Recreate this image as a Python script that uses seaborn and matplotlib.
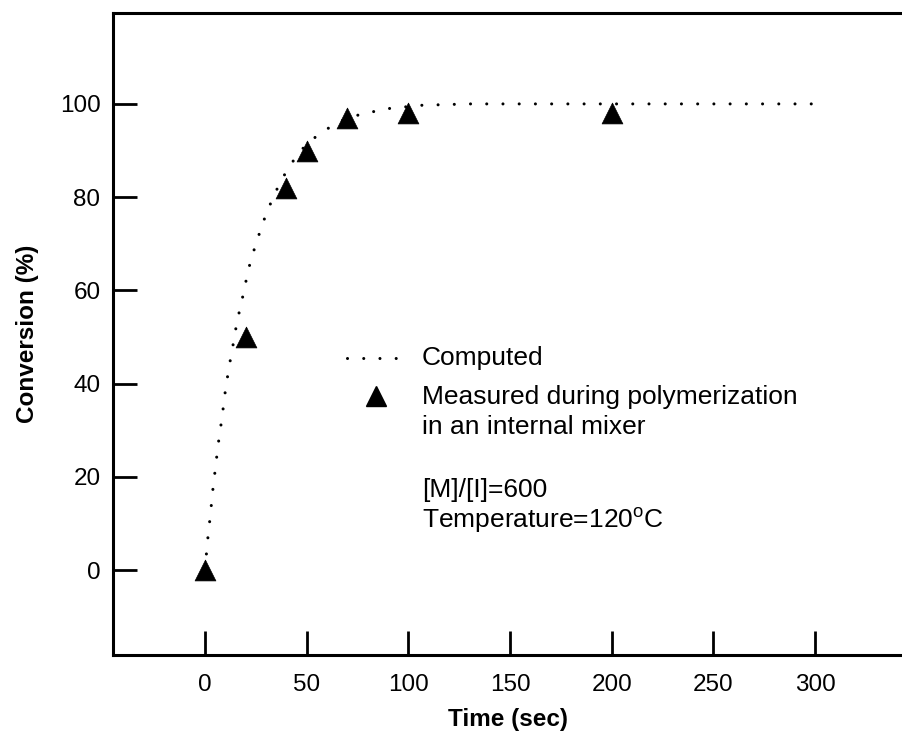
import matplotlib
matplotlib.use("Agg")
import matplotlib.pyplot as plt
import seaborn as sns
import pandas as pd
from matplotlib.lines import Line2D

# Computed curve
computed_time = [0, 0.84, 1.6, 2.5, 3.3, 4.1, 5.1, 6.0, 7.0, 8.2, 9.2, 10.2, 11.5, 12.8,
                 14.3, 15.6, 17.4, 19.2, 20.8, 22.8, 25.4, 27.9, 31.0, 34.3, 38.5, 43.4,
                 50, 58.4, 66, 74.3, 82.3, 90.2, 106, 130, 160, 200, 250, 300]
computed_conv = [0, 4.5, 8.0, 11.4, 15.0, 18.5, 21.9, 25.4, 28.8, 32.3, 35.8, 39.3, 42.7, 46.1,
                 49.6, 53.1, 56.5, 60.0, 63.5, 67.0, 70.4, 73.9, 77.4, 80.8, 84.4, 87.8,
                 91.5, 94.2, 96.2, 97.5, 98.3, 99.0, 99.7, 100, 100, 100, 100, 100]

# Measured points
measured_time = [0, 20, 40, 50, 70, 100, 200]
measured_conv = [0, 50, 82, 90, 97, 98, 98]

x_ticks = [0, 50, 100, 150, 200, 250, 300]
y_ticks = [0, 20, 40, 60, 80, 100]

sns.set_style("ticks")
plt.rcParams['font.family'] = ['Liberation Sans', 'DejaVu Sans']
plt.rcParams['text.color'] = 'black'
plt.rcParams['axes.labelcolor'] = 'black'
plt.rcParams['xtick.color'] = 'black'
plt.rcParams['ytick.color'] = 'black'

fig = plt.figure(figsize=(9.02, 7.46), dpi=100)
ax = fig.add_axes([113/902, 91/746, 1 - 113/902, (655-13)/746])

df_c = pd.DataFrame({"t": computed_time, "c": computed_conv})
df_m = pd.DataFrame({"t": measured_time, "c": measured_conv})

sns.lineplot(data=df_c, x="t", y="c", ax=ax, color="black", linewidth=2.2,
             linestyle=(0, (0.01, 5.3)), dash_capstyle="round", sort=False)
sns.scatterplot(data=df_m, x="t", y="c", ax=ax, marker="^", s=15**2, color="black",
                edgecolor="black", linewidth=0.5, zorder=3)

ax.set_xlim(-45.3, 342.8)
ax.set_ylim(-18.2, 119.5)
ax.set_xticks(x_ticks)
ax.set_yticks(y_ticks)
ax.tick_params(direction="in", length=17.5, width=2, labelsize=17.5,
               colors="black", labelcolor="black")
ax.tick_params(axis="x", pad=13.5)
ax.tick_params(axis="y", pad=9)

for s in ["left", "bottom", "top"]:
    ax.spines[s].set_linewidth(2.2)
    ax.spines[s].set_color("black")
ax.spines["right"].set_visible(False)

ax.set_xlabel("Time (sec)", fontsize=17.5, fontweight="bold", labelpad=9, color="black")
ax.set_ylabel("Conversion (%)", fontsize=17.5, fontweight="bold", labelpad=15, color="black")

# Legend (manual)
tr = ax.transAxes
def ax_x(px):
    return (px - 113) / (902 - 113)
def ax_y(py):
    return (655 - py) / (655 - 13)

ax.add_line(Line2D([ax_x(347), ax_x(397)], [ax_y(358), ax_y(358)], transform=tr,
                   color="black", linewidth=2.2, linestyle=(0, (0.01, 5.3)),
                   dash_capstyle="round"))
ax.add_line(Line2D([ax_x(376)], [ax_y(396)], transform=tr, marker="^", markersize=15,
                   color="black", linestyle="none"))
fs = 19
ax.text(ax_x(422), ax_y(358), "Computed", transform=tr, fontsize=fs, va="center", ha="left")
ax.text(ax_x(422), ax_y(397), "Measured during polymerization", transform=tr, fontsize=fs,
        va="center", ha="left")
ax.text(ax_x(422), ax_y(427), "in an internal mixer", transform=tr, fontsize=fs,
        va="center", ha="left")
ax.text(ax_x(422), ax_y(490), "[M]/[I]=600", transform=tr, fontsize=fs, va="center", ha="left")
ax.text(ax_x(422), ax_y(520), "Temperature=120$^{\\mathregular{o}}$C", transform=tr,
        fontsize=fs, va="center", ha="left")

fig.savefig("out.png", dpi=100, facecolor="white")
